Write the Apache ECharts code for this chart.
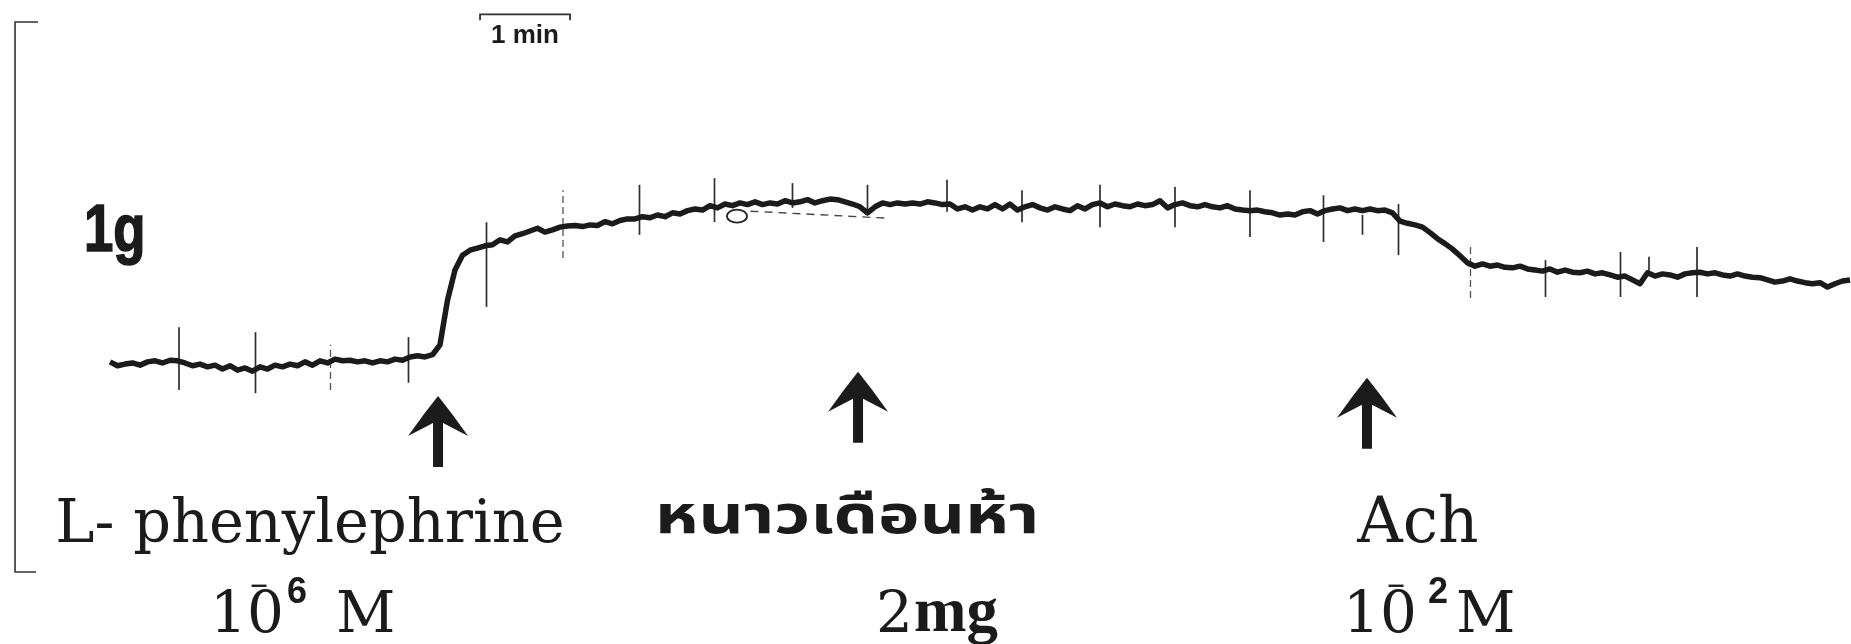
<!DOCTYPE html>
<html><head><meta charset="utf-8">
<script src="https://cdn.jsdelivr.net/npm/echarts@6/dist/echarts.min.js"></script>
<style>html,body{margin:0;padding:0;background:#fff}#c{width:1851px;height:644px}</style>
</head><body><div id="c"></div>
<script>
// ---- data (time in s, tension in mg) ----
const sampleStep = 5; // seconds between samples
const tension = [
382,375,378,380,376,382,384,380,385,384,
380,375,378,373,376,369,375,367,371,365,
373,369,376,373,378,375,382,376,384,380,
387,384,385,382,384,380,384,382,387,385,
391,393,391,395,413,494,549,576,585,589,
593,595,604,600,611,615,620,625,618,622,
627,629,630,628,631,630,637,633,639,642,
642,646,644,649,646,653,651,657,660,658,
666,662,669,666,671,668,673,668,671,669,
675,671,673,677,671,675,678,677,673,669,
664,653,664,671,668,671,669,671,669,673,
671,668,669,660,664,658,664,660,668,660,
669,658,664,668,662,658,664,660,657,666,
660,668,671,664,669,666,664,669,666,668,
675,662,668,671,666,664,668,664,662,666,
660,658,657,658,655,653,649,651,649,655,
657,651,657,660,662,657,660,657,660,657,
658,653,638,634,631,627,617,606,597,587,
575,562,556,560,556,558,554,553,556,551,
549,547,551,545,549,545,544,547,542,544,
540,536,538,531,524,544,538,542,540,536,
542,544,545,542,544,540,538,542,538,536,
535,531,527,529,533,529,526,524,526,518,
524,529,531];
const timerTimes = [46,97,147,199,251,302,353,403,455,505,558,608,660,710,760,809,835,859,907,957,1007,1026,1058];
const timerLow   = [331,325,331,344,482,571,613,636,662,649,655,636,627,627,609,600,613,576,498,500,500,540,500];
const timerHigh  = [445,436,413,427,636,694,704,716,707,704,713,694,704,700,694,685,649,669,595,567,582,573,591];
const timerFaint = [2, 5, 18];   // marks that are broken/faint on the record
const drugTimes = [218.7, 498.7, 838];
const drugTip   = [320, 364, 353];
const drugNames = ['L- phenylephrine', 'หนาวเดือนห้า', 'Ach'];
const calTime = -63.3;           // calibration bar position
const calibration = [0, 1000];   // 1 g
const timeBar = [246.7, 306.7];  // 1 min
const timeBarLevel = 1014;
// pen artefacts on the record
const artefactLoop = [[418, 647]];
const artefactDash = [[427, 656], [520, 643]];

const traceData = tension.map((v, i) => [i * sampleStep, v]);
const timerData = timerTimes.map((t, i) => [t, timerLow[i], timerHigh[i], timerFaint.indexOf(i) >= 0 ? 1 : 0]);
const arrowData = drugTimes.map((t, i) => [t, drugTip[i]]);

const chart = echarts.init(document.getElementById('c'), null, {renderer: 'canvas'});
const SERIF = '"DejaVu Serif", "Liberation Serif", serif';
const SANS = '"Liberation Sans", Arial, sans-serif';
const ink = '#1b1b1b';

function txt(x, y, text, font, align, sx, va, strokeW) {
  const st = {text: text, font: font, fill: ink, align: align || 'left', verticalAlign: va || 'bottom',
              textAlign: align || 'left', textVerticalAlign: va || 'bottom'};
  if (strokeW) { st.stroke = ink; st.lineWidth = strokeW; }
  return {type: 'text', x: x, y: y, z: 10, scaleX: sx || 1, style: st};
}

chart.setOption({
  animation: false,
  backgroundColor: '#ffffff',
  grid: {left: 0, right: 0, top: 0, bottom: 0},
  xAxis: {type: 'value', min: -73.33, max: 1160.67, show: false},
  yAxis: {type: 'value', min: -131, max: 1040, show: false},
  series: [
    { // calibration bracket 1 g
      type: 'custom', clip: false, silent: true,
      data: [[calTime, calibration[0], calibration[1]]],
      renderItem: function (params, api) {
        const p0 = api.coord([api.value(0), api.value(1)]);
        const p1 = api.coord([api.value(0), api.value(2)]);
        return {type: 'polyline', shape: {points: [[p1[0] + 23, p1[1]], p1, p0, [p0[0] + 21, p0[1]]]},
                style: {stroke: '#333', lineWidth: 1.6, fill: null}};
      }
    },
    { // time bar 1 min
      type: 'custom', clip: false, silent: true,
      data: [[timeBar[0], timeBar[1], timeBarLevel]],
      renderItem: function (params, api) {
        const a = api.coord([api.value(0), api.value(2)]);
        const b = api.coord([api.value(1), api.value(2)]);
        return {type: 'polyline', shape: {points: [[a[0], a[1] + 6], a, b, [b[0], b[1] + 6]]},
                style: {stroke: '#333', lineWidth: 1.8, fill: null}};
      }
    },
    { // timer marks
      type: 'custom', clip: false, silent: true,
      data: timerData,
      renderItem: function (params, api) {
        const a = api.coord([api.value(0), api.value(1)]);
        const b = api.coord([api.value(0), api.value(2)]);
        const faint = api.value(3) === 1;
        return {type: 'line', shape: {x1: a[0], y1: a[1], x2: b[0], y2: b[1]},
                style: {stroke: faint ? '#555' : '#2e2e2e', lineWidth: faint ? 1.3 : 1.7,
                        lineDash: faint ? [7, 4] : null}};
      }
    },
    { // pen artefacts
      type: 'line', data: artefactDash, showSymbol: false, silent: true,
      lineStyle: {color: '#444', width: 1.4, type: [8, 6]}, z: 3
    },
    {
      type: 'custom', clip: false, silent: true, data: artefactLoop, z: 3,
      renderItem: function (params, api) {
        const p = api.coord([api.value(0), api.value(1)]);
        return {type: 'ellipse', shape: {cx: p[0], cy: p[1], rx: 10, ry: 6.5},
                style: {fill: '#fff', stroke: '#222', lineWidth: 1.8}};
      }
    },
    { // tension trace
      type: 'line', data: traceData, showSymbol: false, smooth: false,
      lineStyle: {color: ink, width: 5.5, join: 'round'}, z: 5
    },
    { // drug addition arrows
      type: 'custom', clip: false, silent: true,
      data: arrowData,
      renderItem: function (params, api) {
        const p = api.coord([api.value(0), api.value(1)]);
        const x = p[0], y = p[1];
        return {type: 'polygon', shape: {points: [
          [x, y], [x + 14, y + 18], [x + 30, y + 40], [x + 5, y + 27], [x + 5, y + 71],
          [x - 5, y + 71], [x - 5, y + 27], [x - 30, y + 40], [x - 14, y + 18]]},
          style: {fill: ink}};
      }
    }
  ],
  graphic: [
    txt(84, 266, '1g', 'bold 66px ' + SANS, 'left', 0.8, 'bottom', 1.6),
    txt(491, 49, '1 min', 'bold 26px ' + SANS),
    txt(310, 556, drugNames[0], '59px ' + SERIF, 'center'),
    txt(847, 549, drugNames[1], 'bold 54px "Noto Sans Thai", Loma, Garuda, sans-serif', 'center', 1.3),
    txt(1418, 557, drugNames[2], '63px ' + SERIF, 'center'),
    // 10^-6 M
    txt(210, 646, '10', '58px ' + SERIF),
    txt(259, 587, '−', '30px ' + SERIF, 'center', 0.8, 'middle'),
    txt(287, 611, '6', 'bold 36px ' + SANS),
    txt(336, 646, 'M', '58px ' + SERIF),
    // 2 mg
    txt(876, 646, '2', '58px ' + SERIF),
    txt(914, 646, 'mg', 'bold 63px "Liberation Serif", serif'),
    // 10^-2 M
    txt(1343, 646, '10', '58px ' + SERIF),
    txt(1396, 587, '−', '30px ' + SERIF, 'center', 0.8, 'middle'),
    txt(1428, 611, '2', 'bold 36px ' + SANS),
    txt(1456, 646, 'M', '58px ' + SERIF)
  ]
});
</script></body></html>
